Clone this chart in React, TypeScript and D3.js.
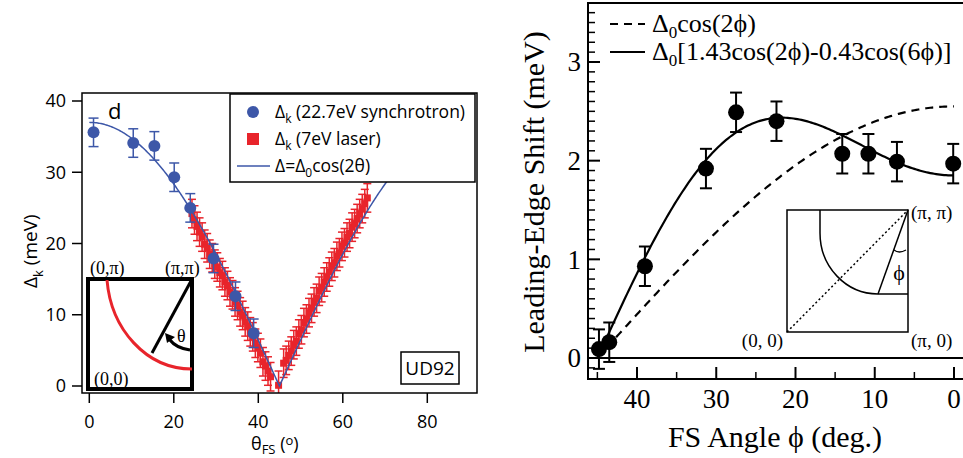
import React from "react";
import * as d3 from "d3";

// ---------- Left panel: gap vs Fermi-surface angle (UD92) ----------
const synchTheta = [1.0, 10.4, 15.4, 20.1, 23.9, 29.4, 34.6, 38.9];
const synchGap = [35.6, 34.1, 33.7, 29.3, 25.0, 17.9, 12.6, 7.4];
const synchErr = [2.0, 2.0, 2.0, 2.0, 2.0, 2.0, 2.0, 2.0];

const laserTheta = [
  24.3, 24.9, 25.5, 26.1, 26.7, 27.3, 27.9, 28.5, 29.1, 29.7, 30.3, 30.9,
  31.5, 32.1, 32.7, 33.3, 33.9, 34.5, 35.1, 35.7, 36.3, 36.9, 37.5, 38.1,
  38.7, 39.3, 39.9, 40.5, 41.1, 41.7, 42.3, 42.9, 44.8,
  46.0, 46.6, 47.2, 47.8, 48.4, 49.0, 49.6, 50.2, 50.8, 51.4, 52.0, 52.6,
  53.2, 53.8, 54.4, 55.0, 55.6, 56.2, 56.8, 57.4, 58.0, 58.6, 59.2, 59.8,
  60.4, 61.0, 61.6, 62.2, 62.8, 63.4, 64.0, 64.6, 65.2, 65.8,
];
const laserGap = [
  24.2, 23.3, 22.4, 21.6, 20.9, 19.9, 19.4, 18.5, 18.0, 17.1, 16.7, 15.9,
  15.5, 14.6, 14.1, 13.2, 12.8, 11.8, 11.3, 10.4, 9.9, 9.0, 8.4, 7.6,
  6.9, 6.0, 5.4, 4.6, 3.4, 2.8, 2.1, 1.3, 0.1,
  3.2, 3.6, 4.3, 4.9, 5.8, 6.3, 7.3, 7.9, 8.9, 9.4, 10.3, 10.9,
  11.8, 12.3, 13.3, 13.8, 14.6, 15.3, 16.0, 16.8, 17.3, 18.2, 18.7, 19.6,
  20.1, 20.9, 21.4, 22.3, 22.8, 23.5, 24.2, 24.9, 25.6, 26.4,
];
const laserErr = 2.0;

// amplitude of the d-wave fit  Δ = Δ0 cos(2θ)
const gapFitAmp = 37.0;

const leftXTicks = [0, 20, 40, 60, 80];
const leftYTicks = [0, 10, 20, 30, 40];

// ---------- Right panel: leading-edge shift vs FS angle ----------
const fsAngle = [44.8, 43.5, 39.0, 31.3, 27.5, 22.4, 14.1, 10.8, 7.2, 0.1];
const edgeShift = [0.09, 0.16, 0.93, 1.92, 2.49, 2.40, 2.07, 2.07, 1.99, 1.97];
const edgeErr = [0.2, 0.2, 0.2, 0.2, 0.2, 0.2, 0.2, 0.2, 0.2, 0.2];

// Δ0 for the two model curves
const pureDWaveAmp = 2.55;
const mixedAmp = 1.85;
const mixedC2 = 1.43;
const mixedC6 = 0.43;

const rightXMajor = [40, 30, 20, 10, 0];
const rightXMinor = [45, 35, 25, 15, 5];
const rightYMajor = [0, 1, 2, 3];

const SANS = "'Open Sans', 'Noto Sans', sans-serif";
const SERIF = "'Liberation Serif', 'DejaVu Serif', serif";
const BLUE = "#3d57a8";
const RED = "#e8242b";
const PHI = "\u03D5";

const rad = (deg: number) => (deg * Math.PI) / 180;

function LeftPanel() {
  const x = d3.scaleLinear().domain([0, 80]).range([89.3, 427.3]);
  const y = d3.scaleLinear().domain([0, 40]).range([386, 101]);
  const frame = { l: 82, t: 93, r: 477, b: 393 };

  const fitLine = d3
    .line<number>()
    .x((t) => x(t))
    .y((t) => y(gapFitAmp * Math.abs(Math.cos(2 * rad(t)))));
  const fitPts = d3.range(0, 90.001, 0.25);

  return (
    <g>
      <defs>
        <clipPath id="leftClip">
          <rect x={frame.l} y={frame.t} width={frame.r - frame.l} height={frame.b - frame.t} />
        </clipPath>
      </defs>

      {/* inset: Brillouin-zone quadrant */}
      <g>
        <rect x={88} y={279} width={104} height={110} fill="white" stroke="black" strokeWidth={4} />
        <path d="M107,280 C111,329 146,369 192,369" fill="none" stroke={RED} strokeWidth={3} />
        <line x1={191} y1={281} x2={152} y2={353} stroke="black" strokeWidth={3} />
        <path d="M190,350 Q176,348 170,340" fill="none" stroke="black" strokeWidth={3} />
        <path d="M165,333 L175,337 L167,343 Z" fill="black" />
        <text x={177} y={342} fontFamily={SERIF} fontSize={18}>θ</text>
        <text x={90} y={274} fontFamily={SERIF} fontSize={18}>(0,π)</text>
        <text x={165} y={274} fontFamily={SERIF} fontSize={18}>(π,π)</text>
        <text x={94} y={385} fontFamily={SERIF} fontSize={18}>(0,0)</text>
      </g>

      <g clipPath="url(#leftClip)">
        {/* laser data */}
        {laserTheta.map((t, i) => {
          const cx = x(t);
          const y0 = y(laserGap[i] - laserErr);
          const y1 = y(laserGap[i] + laserErr);
          return (
            <g key={"le" + i} stroke={RED} strokeWidth={1.5}>
              <line x1={cx} x2={cx} y1={y0} y2={y1} />
              <line x1={cx - 4} x2={cx + 4} y1={y0} y2={y0} />
              <line x1={cx - 4} x2={cx + 4} y1={y1} y2={y1} />
            </g>
          );
        })}
        {laserTheta.map((t, i) => (
          <rect key={"lm" + i} x={x(t) - 3.5} y={y(laserGap[i]) - 3.5} width={7} height={7} fill={RED} />
        ))}

        {/* d-wave fit */}
        <path d={fitLine(fitPts) || ""} fill="none" stroke={BLUE} strokeWidth={1.5} />

        {/* synchrotron data */}
        {synchTheta.map((t, i) => {
          const cx = x(t);
          const y0 = y(synchGap[i] - synchErr[i]);
          const y1 = y(synchGap[i] + synchErr[i]);
          return (
            <g key={"se" + i} stroke={BLUE} strokeWidth={1.5}>
              <line x1={cx} x2={cx} y1={y0} y2={y1} />
              <line x1={cx - 5} x2={cx + 5} y1={y0} y2={y0} />
              <line x1={cx - 5} x2={cx + 5} y1={y1} y2={y1} />
            </g>
          );
        })}
        {synchTheta.map((t, i) => (
          <circle key={"sm" + i} cx={x(t)} cy={y(synchGap[i])} r={6} fill={BLUE} />
        ))}
      </g>

      {/* frame and axes */}
      <rect x={frame.l} y={frame.t} width={frame.r - frame.l} height={frame.b - frame.t} fill="none" stroke="black" strokeWidth={1.5} />
      {leftYTicks.map((v) => (
        <g key={"ly" + v}>
          <line x1={frame.l - 10} x2={frame.l} y1={y(v)} y2={y(v)} stroke="black" strokeWidth={1.5} />
          <text x={66} y={y(v)} dy="0.36em" textAnchor="end" fontFamily={SANS} fontSize={18}>{v}</text>
        </g>
      ))}
      {leftXTicks.map((v) => (
        <g key={"lx" + v}>
          <line x1={x(v)} x2={x(v)} y1={frame.b} y2={frame.b + 10} stroke="black" strokeWidth={1.5} />
          <text x={x(v)} y={428} textAnchor="middle" fontFamily={SANS} fontSize={18}>{v}</text>
        </g>
      ))}

      {/* axis titles */}
      <text transform="translate(37,288) rotate(-90)" fontFamily={SANS} fontSize={19}>
        Δ<tspan fontSize={13} dy={6}>k</tspan>
        <tspan dy={-6}> (meV)</tspan>
      </text>
      <text x={251} y={450} fontFamily={SANS} fontSize={18}>
        θ<tspan fontSize={13} dy={4}>FS</tspan>
        <tspan dy={-4}> (</tspan>
        <tspan fontSize={13} dy={-5}>o</tspan>
        <tspan dy={5}>)</tspan>
      </text>

      <text x={108} y={119} fontFamily={SANS} fontSize={22}>d</text>

      {/* legend */}
      <rect x={230} y={94} width={245} height={88} fill="white" stroke="black" strokeWidth={1.5} />
      <circle cx={253} cy={112} r={6} fill={BLUE} />
      <text x={275} y={118} fontFamily={SANS} fontSize={17.5}>
        Δ<tspan fontSize={12} dy={5}>k</tspan>
        <tspan dy={-5}> (22.7eV synchrotron)</tspan>
      </text>
      <rect x={247} y={133} width={12} height={12} fill={RED} />
      <text x={275} y={145} fontFamily={SANS} fontSize={17.5}>
        Δ<tspan fontSize={12} dy={5}>k</tspan>
        <tspan dy={-5}> (7eV laser)</tspan>
      </text>
      <line x1={237} x2={270} y1={166} y2={166} stroke={BLUE} strokeWidth={1.5} />
      <text x={275} y={172} fontFamily={SANS} fontSize={17.5}>
        Δ=Δ<tspan fontSize={12} dy={5}>0</tspan>
        <tspan dy={-5}>cos(2θ)</tspan>
      </text>

      {/* sample tag */}
      <rect x={401} y={352} width={58} height={32} fill="white" stroke="black" strokeWidth={1.5} />
      <text x={430} y={375} textAnchor="middle" fontFamily={SANS} fontSize={19}>UD92</text>
    </g>
  );
}

function RightPanel() {
  const x = d3.scaleLinear().domain([40, 0]).range([637, 954]);
  const y = d3.scaleLinear().domain([0, 3]).range([358, 62]);
  const frame = { l: 588, t: 3, r: 968, b: 379 };

  const curvePts = d3.range(45, -0.001, -0.25);
  const dWave = d3
    .line<number>()
    .x((p) => x(p))
    .y((p) => y(pureDWaveAmp * Math.cos(2 * rad(p))));
  const mixed = d3
    .line<number>()
    .x((p) => x(p))
    .y((p) => y(mixedAmp * (mixedC2 * Math.cos(2 * rad(p)) - mixedC6 * Math.cos(6 * rad(p)))));

  const minorY = d3.range(-1, 36).map((k) => k / 10).filter((v) => Math.abs(v - Math.round(v)) > 1e-6);

  return (
    <g>
      {/* inset: FS quadrant with angle definition */}
      <g stroke="black" fill="none">
        <rect x={787} y={210} width={121} height={122} fill="white" strokeWidth={1.5} />
        <path d="M820,210 L820,233 A58,61 0 0 0 878,294 L908,294" strokeWidth={1.5} />
        <line x1={787} y1={332} x2={908} y2={210} strokeWidth={1.5} strokeDasharray="2,2.5" />
        <line x1={908} y1={210} x2={878} y2={294} strokeWidth={1.5} />
        <path d="M894,250 Q899,254 906,250" strokeWidth={1.3} />
      </g>
      <text x={899} y={280} textAnchor="middle" fontFamily={SERIF} fontSize={22}>{PHI}</text>
      <text x={911} y={219} fontFamily={SERIF} fontSize={19}>(π, π)</text>
      <text x={783} y={347} textAnchor="end" fontFamily={SERIF} fontSize={19}>(0, 0)</text>
      <text x={911} y={347} fontFamily={SERIF} fontSize={19}>(π, 0)</text>

      {/* zero line */}
      <line x1={x(45)} x2={frame.r} y1={y(0)} y2={y(0)} stroke="black" strokeWidth={2} />

      {/* model curves */}
      <path d={dWave(curvePts) || ""} fill="none" stroke="black" strokeWidth={2.2} strokeDasharray="8,6" />
      <path d={mixed(curvePts) || ""} fill="none" stroke="black" strokeWidth={2.2} />

      {/* data */}
      {fsAngle.map((p, i) => {
        const cx = x(p);
        const y0 = y(edgeShift[i] - edgeErr[i]);
        const y1 = y(edgeShift[i] + edgeErr[i]);
        return (
          <g key={"re" + i} stroke="black" strokeWidth={2}>
            <line x1={cx} x2={cx} y1={y0} y2={y1} />
            <line x1={cx - 6} x2={cx + 6} y1={y0} y2={y0} />
            <line x1={cx - 6} x2={cx + 6} y1={y1} y2={y1} />
          </g>
        );
      })}
      {fsAngle.map((p, i) => (
        <circle key={"rm" + i} cx={x(p)} cy={y(edgeShift[i])} r={8} fill="black" />
      ))}

      {/* frame */}
      <path d={`M${frame.r},${frame.t} L${frame.l},${frame.t} L${frame.l},${frame.b} L${frame.r},${frame.b}`} fill="none" stroke="black" strokeWidth={2} />

      {/* y ticks (inside) */}
      {rightYMajor.map((v) => (
        <g key={"ryM" + v}>
          <line x1={frame.l} x2={frame.l + 12} y1={y(v)} y2={y(v)} stroke="black" strokeWidth={2} />
          <text x={581} y={y(v)} dy="0.34em" textAnchor="end" fontFamily={SERIF} fontSize={27}>{v}</text>
        </g>
      ))}
      {minorY.map((v) => (
        <line key={"rym" + v} x1={frame.l} x2={frame.l + 7} y1={y(v)} y2={y(v)} stroke="black" strokeWidth={1.5} />
      ))}

      {/* x ticks (inside) */}
      {rightXMajor.map((v) => (
        <g key={"rxM" + v}>
          <line x1={x(v)} x2={x(v)} y1={frame.b} y2={frame.b - 12} stroke="black" strokeWidth={2} />
          <text x={x(v)} y={408} textAnchor="middle" fontFamily={SERIF} fontSize={27}>{v}</text>
        </g>
      ))}
      {rightXMinor.map((v) => (
        <line key={"rxm" + v} x1={x(v)} x2={x(v)} y1={frame.b} y2={frame.b - 7} stroke="black" strokeWidth={1.5} />
      ))}

      {/* axis titles */}
      <text transform="translate(544,192) rotate(-90)" textAnchor="middle" fontFamily={SERIF} fontSize={30}>
        Leading-Edge Shift (meV)
      </text>
      <text x={775} y={447} textAnchor="middle" fontFamily={SERIF} fontSize={30}>
        {`FS Angle ${PHI} (deg.)`}
      </text>

      {/* legend */}
      <line x1={610} x2={645} y1={24} y2={24} stroke="black" strokeWidth={2.2} strokeDasharray="8,6" />
      <text x={652} y={32} fontFamily={SERIF} fontSize={26}>
        Δ<tspan fontSize={17} dy={6}>0</tspan>
        <tspan dy={-6}>{`cos(2${PHI})`}</tspan>
      </text>
      <line x1={610} x2={645} y1={52} y2={52} stroke="black" strokeWidth={2.2} />
      <text x={652} y={60} fontFamily={SERIF} fontSize={26}>
        Δ<tspan fontSize={17} dy={6}>0</tspan>
        <tspan dy={-6}>{`[1.43cos(2${PHI})-0.43cos(6${PHI})]`}</tspan>
      </text>
    </g>
  );
}

export default function App() {
  return (
    <svg
      width={963}
      height={458}
      viewBox="0 0 963 458"
      style={{ position: "absolute", left: 0, top: 0, background: "white" }}
    >
      <rect x={0} y={0} width={963} height={458} fill="white" />
      <LeftPanel />
      <RightPanel />
    </svg>
  );
}
